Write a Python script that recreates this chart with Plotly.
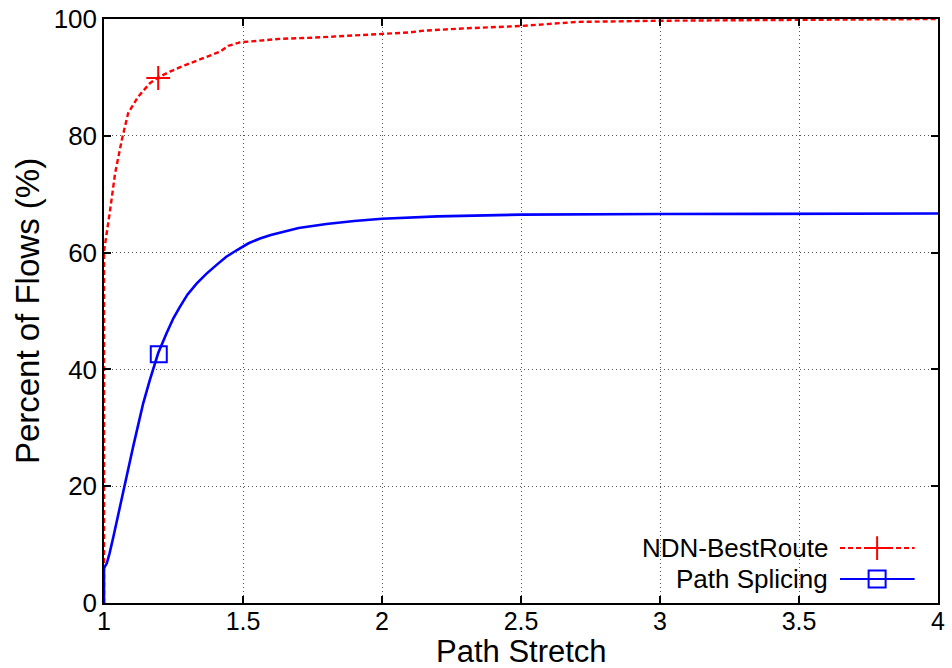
import plotly.graph_objects as go

# CDF of path stretch for two forwarding schemes
best_route_x = [1.0, 1.0, 1.0, 1.022, 1.04, 1.064, 1.087, 1.123, 1.165, 1.195, 1.237,
                1.297, 1.357, 1.417, 1.447, 1.489, 1.561, 1.633, 1.75, 1.993, 2.1,
                2.15, 2.3, 2.5, 2.6, 2.7, 3.0, 3.5, 4.0]
best_route_y = [0.0, 30.0, 60.2, 67.3, 73.6, 79.3, 83.9, 86.7, 89.0, 90.0, 91.0,
                92.2, 93.3, 94.4, 95.4, 96.0, 96.3, 96.6, 96.8, 97.5, 97.7,
                98.0, 98.4, 98.8, 99.2, 99.5, 99.7, 99.9, 100.0]

splicing_x = [1.0, 1.0, 1.01, 1.02, 1.034, 1.05, 1.069, 1.087, 1.105, 1.123, 1.141,
              1.165, 1.195, 1.225, 1.25, 1.273, 1.3, 1.333, 1.369, 1.405, 1.44,
              1.477, 1.52, 1.561, 1.6, 1.7, 1.8, 1.9, 2.0, 2.2, 2.5, 3.0, 4.0]
splicing_y = [0.0, 6.0, 6.8, 8.5, 11.4, 15.0, 19.3, 23.0, 26.8, 30.5, 34.2,
              38.2, 42.8, 46.2, 48.8, 50.7, 52.8, 54.7, 56.4, 57.9, 59.3,
              60.4, 61.6, 62.4, 63.0, 64.2, 64.9, 65.4, 65.8, 66.2, 66.5, 66.6, 66.7]

# sampled point markers
best_route_mark = (1.195, 89.9)
splicing_mark = (1.197, 42.6)

series_names = ["NDN-BestRoute", "Path Splicing"]
x_ticks = [1, 1.5, 2, 2.5, 3, 3.5, 4]
x_tick_text = ["1", "1.5", "2", "2.5", "3", "3.5", "4"]
y_ticks = [0, 20, 40, 60, 80, 100]
x_title = "Path Stretch"
y_title = "Percent of Flows (%)"

RED = "#ff0000"
BLUE = "#0000ff"
FONT = "Liberation Sans, Arial, sans-serif"

fig = go.Figure()

fig.add_trace(go.Scatter(x=best_route_x, y=best_route_y, mode="lines",
                         line=dict(color=RED, width=2.4, dash="5px,3px"),
                         showlegend=False, hoverinfo="skip"))
fig.add_trace(go.Scatter(x=splicing_x, y=splicing_y, mode="lines",
                         line=dict(color=BLUE, width=2.6),
                         showlegend=False, hoverinfo="skip"))
fig.add_trace(go.Scatter(x=[best_route_mark[0]], y=[best_route_mark[1]], mode="markers",
                         marker=dict(symbol="cross-thin", size=17, line=dict(color=RED, width=2)),
                         showlegend=False, hoverinfo="skip"))
fig.add_trace(go.Scatter(x=[splicing_mark[0]], y=[splicing_mark[1]], mode="markers",
                         marker=dict(symbol="square-open", size=16, color=BLUE,
                                     line=dict(color=BLUE, width=2)),
                         showlegend=False, hoverinfo="skip"))

# key in the lower right corner, drawn on an overlay axis spanning [0, 1]
key_rows = [
    dict(name=series_names[0], y=0.094, color=RED, dash="5px,3px", symbol="cross-thin", width=2),
    dict(name=series_names[1], y=0.041, color=BLUE, dash="solid", symbol="square-open", width=2),
]
for row in key_rows:
    fig.add_trace(go.Scatter(x=[0.8825, 0.972], y=[row["y"], row["y"]], mode="lines",
                             line=dict(color=row["color"], width=row["width"], dash=row["dash"]),
                             xaxis="x2", yaxis="y2", showlegend=False, hoverinfo="skip"))
    fig.add_trace(go.Scatter(x=[0.927], y=[row["y"]], mode="markers",
                             marker=dict(symbol=row["symbol"], size=17, color=row["color"],
                                         line=dict(color=row["color"], width=2)),
                             xaxis="x2", yaxis="y2", showlegend=False, hoverinfo="skip"))
    fig.add_annotation(x=0.871, y=row["y"], xref="x2", yref="y2", text=row["name"],
                       showarrow=False, xanchor="right", yanchor="middle",
                       font=dict(family=FONT, size=26, color="black"))

# x-axis title set as a paper annotation so it can sit tight under the tick labels
fig.add_annotation(x=0.5, y=-0.0497, xref="paper", yref="paper", text=x_title,
                   showarrow=False, xanchor="center", yanchor="top",
                   font=dict(family=FONT, size=31, color="black"))

axis_common = dict(
    showline=True, linecolor="black", linewidth=1.5, mirror="allticks",
    ticks="inside", ticklen=7, tickwidth=1.5, tickcolor="black",
    showgrid=True, gridcolor="#555555", griddash="1px,3px", gridwidth=1.2,
    zeroline=False, automargin=False,
)

fig.update_layout(
    width=952, height=668,
    margin=dict(l=104, r=14, t=19, b=65),
    paper_bgcolor="white", plot_bgcolor="white",
    xaxis=dict(range=[1, 4], tickvals=x_ticks, ticktext=x_tick_text,
               tickfont=dict(family=FONT, size=25, color="black"),
               ticklabelstandoff=-5, **axis_common),
    yaxis=dict(range=[0, 100], tickvals=y_ticks,
               tickfont=dict(family=FONT, size=26, color="black"),
               title=dict(text=y_title, font=dict(family=FONT, size=33, color="black"),
                          standoff=4),
               **axis_common),
    xaxis2=dict(range=[0, 1], overlaying="x", visible=False),
    yaxis2=dict(range=[0, 1], overlaying="y", visible=False),
    showlegend=False,
)

fig.write_html("out.html")
